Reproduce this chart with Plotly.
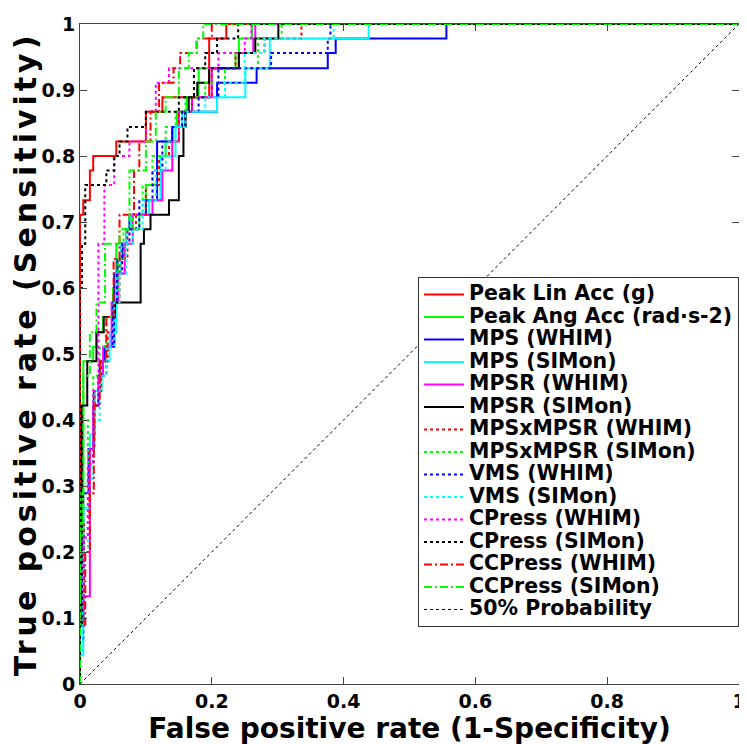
import plotly.graph_objects as go

# ---- data (ROC operating points: FPR, TPR) ----
names = ["Peak Lin Acc (g)", "Peak Ang Acc (rad·s-2)", "MPS (WHIM)", "MPS (SIMon)",
         "MPSR (WHIM)", "MPSR (SIMon)", "MPSxMPSR (WHIM)", "MPSxMPSR (SIMon)",
         "VMS (WHIM)", "VMS (SIMon)", "CPress (WHIM)", "CPress (SIMon)",
         "CCPress (WHIM)", "CCPress (SIMon)", "50% Probability"]

fpr_peak_lin = [0, 0, 0.005, 0.015, 0.02, 0.055, 0.1, 0.125, 0.196, 0.222, 1]
tpr_peak_lin = [0, 0.711, 0.733, 0.778, 0.8, 0.822, 0.867, 0.889, 0.978, 1, 1]

fpr_peak_ang = [0, 0, 0.005, 0.02, 0.025, 0.035, 0.05, 0.055, 0.07, 0.09, 0.1, 0.117, 0.13, 0.14, 0.147, 0.162, 0.18, 0.236, 0.241, 0.261, 1]
tpr_peak_ang = [0, 0.289, 0.489, 0.511, 0.533, 0.556, 0.6, 0.667, 0.689, 0.711, 0.756, 0.8, 0.822, 0.844, 0.867, 0.889, 0.933, 0.956, 0.978, 1, 1]

fpr_mps_whim = [0, 0, 0.005, 0.013, 0.021, 0.03, 0.038, 0.052, 0.057, 0.065, 0.07, 0.075, 0.1, 0.117, 0.14, 0.16, 0.208, 0.268, 0.376, 0.388, 0.556, 1]
tpr_mps_whim = [0, 0.089, 0.289, 0.356, 0.444, 0.489, 0.511, 0.622, 0.644, 0.667, 0.689, 0.711, 0.733, 0.822, 0.844, 0.867, 0.911, 0.933, 0.956, 0.978, 1, 1]

fpr_mps_simon = [0, 0, 0.005, 0.015, 0.023, 0.033, 0.045, 0.055, 0.062, 0.07, 0.078, 0.105, 0.122, 0.145, 0.155, 0.208, 0.251, 0.288, 0.438, 1]
tpr_mps_simon = [0, 0.044, 0.267, 0.378, 0.444, 0.489, 0.533, 0.622, 0.667, 0.689, 0.711, 0.733, 0.8, 0.844, 0.867, 0.889, 0.933, 0.978, 1, 1]

fpr_mpsr_whim = [0, 0, 0.005, 0.015, 0.02, 0.028, 0.035, 0.048, 0.058, 0.068, 0.08, 0.11, 0.125, 0.14, 0.15, 0.17, 0.2, 0.241, 0.263, 0.266, 1]
tpr_mpsr_whim = [0, 0.089, 0.133, 0.356, 0.422, 0.467, 0.511, 0.578, 0.622, 0.667, 0.711, 0.733, 0.778, 0.822, 0.867, 0.889, 0.933, 0.956, 0.978, 1, 1]

fpr_mpsr_simon = [0, 0, 0.003, 0.011, 0.025, 0.036, 0.053, 0.092, 0.097, 0.107, 0.135, 0.15, 0.157, 0.16, 0.165, 0.178, 0.196, 0.241, 0.266, 0.301, 1]
tpr_mpsr_simon = [0, 0.089, 0.422, 0.489, 0.533, 0.556, 0.578, 0.667, 0.689, 0.711, 0.733, 0.8, 0.844, 0.867, 0.889, 0.911, 0.933, 0.956, 0.978, 1, 1]

fpr_mpsx_whim = [0, 0, 0.006, 0.014, 0.022, 0.032, 0.042, 0.05, 0.06, 0.072, 0.085, 0.1, 0.12, 0.135, 0.15, 0.17, 0.2, 0.236, 0.28, 0.336, 1]
tpr_mpsx_whim = [0, 0.111, 0.244, 0.356, 0.444, 0.489, 0.533, 0.578, 0.644, 0.689, 0.711, 0.756, 0.8, 0.822, 0.867, 0.889, 0.933, 0.956, 0.978, 1, 1]

fpr_mpsx_simon = [0, 0, 0.004, 0.012, 0.02, 0.03, 0.04, 0.05, 0.058, 0.066, 0.08, 0.095, 0.11, 0.13, 0.145, 0.16, 0.19, 0.22, 0.27, 0.306, 1]
tpr_mpsx_simon = [0, 0.156, 0.289, 0.4, 0.467, 0.511, 0.556, 0.6, 0.644, 0.689, 0.711, 0.756, 0.8, 0.844, 0.867, 0.889, 0.911, 0.933, 0.978, 1, 1]

fpr_vms_whim = [0, 0, 0.005, 0.012, 0.02, 0.028, 0.04, 0.05, 0.056, 0.064, 0.075, 0.09, 0.11, 0.125, 0.14, 0.155, 0.18, 0.21, 0.29, 0.376, 0.38, 1]
tpr_vms_whim = [0, 0.067, 0.222, 0.333, 0.422, 0.467, 0.511, 0.578, 0.622, 0.667, 0.689, 0.733, 0.778, 0.822, 0.844, 0.867, 0.889, 0.933, 0.956, 0.978, 1, 1]

fpr_vms_simon = [0, 0, 0.004, 0.012, 0.02, 0.03, 0.04, 0.052, 0.06, 0.07, 0.08, 0.095, 0.115, 0.13, 0.145, 0.16, 0.19, 0.22, 0.25, 0.28, 0.385, 1]
tpr_vms_simon = [0, 0.044, 0.2, 0.311, 0.4, 0.467, 0.511, 0.578, 0.622, 0.667, 0.689, 0.733, 0.778, 0.822, 0.844, 0.867, 0.889, 0.911, 0.956, 0.978, 1, 1]

fpr_cpress_whim = [0, 0, 0.005, 0.012, 0.02, 0.028, 0.037, 0.052, 0.075, 0.1, 0.115, 0.135, 0.21, 0.25, 0.26, 1]
tpr_cpress_whim = [0, 0.111, 0.222, 0.333, 0.444, 0.667, 0.756, 0.8, 0.822, 0.867, 0.911, 0.933, 0.956, 0.978, 1, 1]

fpr_cpress_simon = [0, 0, 0.003, 0.008, 0.04, 0.052, 0.06, 0.072, 0.1, 0.15, 0.173, 0.19, 0.208, 0.24, 1]
tpr_cpress_simon = [0, 0.6, 0.667, 0.756, 0.778, 0.8, 0.822, 0.844, 0.867, 0.889, 0.933, 0.956, 0.978, 1, 1]

fpr_ccpress_whim = [0, 0, 0.008, 0.015, 0.021, 0.03, 0.04, 0.051, 0.06, 0.082, 0.09, 0.107, 0.12, 0.142, 0.152, 0.177, 0.2, 1]
tpr_ccpress_whim = [0, 0.089, 0.2, 0.289, 0.422, 0.489, 0.556, 0.644, 0.711, 0.778, 0.822, 0.867, 0.911, 0.933, 0.956, 0.978, 1, 1]

fpr_ccpress_simon = [0, 0, 0.005, 0.015, 0.025, 0.038, 0.06, 0.075, 0.1, 0.115, 0.13, 0.15, 0.165, 0.177, 0.187, 1]
tpr_ccpress_simon = [0, 0.244, 0.467, 0.533, 0.578, 0.667, 0.689, 0.778, 0.822, 0.867, 0.889, 0.933, 0.956, 0.978, 1, 1]

fpr_chance = [0, 1]
tpr_chance = [0, 1]

x_ticks = [0, 0.2, 0.4, 0.6, 0.8, 1]
x_tick_text = ["0", "0.2", "0.4", "0.6", "0.8", "1"]
y_ticks = [0, 0.1, 0.2, 0.3, 0.4, 0.5, 0.6, 0.7, 0.8, 0.9, 1]
y_tick_text = ["0", "0.1", "0.2", "0.3", "0.4", "0.5", "0.6", "0.7", "0.8", "0.9", "1"]

DASHDOT = "8px,3px,2px,3px"
series = [
    (fpr_peak_lin, tpr_peak_lin, "#FF0000", "solid"),
    (fpr_peak_ang, tpr_peak_ang, "#00FF00", "solid"),
    (fpr_mps_whim, tpr_mps_whim, "#0000FF", "solid"),
    (fpr_mps_simon, tpr_mps_simon, "#00FFFF", "solid"),
    (fpr_mpsr_whim, tpr_mpsr_whim, "#FF00FF", "solid"),
    (fpr_mpsr_simon, tpr_mpsr_simon, "#000000", "solid"),
    (fpr_mpsx_whim, tpr_mpsx_whim, "#FF0000", "dot"),
    (fpr_mpsx_simon, tpr_mpsx_simon, "#00FF00", "dot"),
    (fpr_vms_whim, tpr_vms_whim, "#0000FF", "dot"),
    (fpr_vms_simon, tpr_vms_simon, "#00FFFF", "dot"),
    (fpr_cpress_whim, tpr_cpress_whim, "#FF00FF", "dot"),
    (fpr_cpress_simon, tpr_cpress_simon, "#000000", "dot"),
    (fpr_ccpress_whim, tpr_ccpress_whim, "#FF0000", DASHDOT),
    (fpr_ccpress_simon, tpr_ccpress_simon, "#00FF00", DASHDOT),
]

LEG_SPAN = '<span style="font-size:20.5px">{}</span>'

fig = go.Figure()
for name, (fx, ty, col, dash) in zip(names, series):
    fig.add_trace(go.Scatter(x=fx, y=ty, mode="lines", name=LEG_SPAN.format(name),
                             line=dict(color=col, dash=dash, width=2, shape="hv")))
fig.add_trace(go.Scatter(x=fpr_chance, y=tpr_chance, mode="lines",
                         name=LEG_SPAN.format(names[-1]),
                         line=dict(color="#000000", dash="dot", width=1)))

tick_font = dict(family="DejaVu Sans", size=19, color="black", weight="bold")
title_font = dict(family="DejaVu Sans", size=28, color="black", weight="bold")

fig.update_layout(
    width=747, height=744,
    margin=dict(l=72, r=16, t=5, b=68),
    paper_bgcolor="white", plot_bgcolor="white",
    showlegend=True,
    legend=dict(x=1.0, y=0.086, xanchor="right", yanchor="bottom",
                bgcolor="white", bordercolor="#333333", borderwidth=1,
                itemwidth=40,
                font=dict(family="DejaVu Sans", size=15, color="black", weight="bold")),
    xaxis=dict(range=[0, 1], tickvals=x_ticks, ticktext=x_tick_text,
               ticks="inside", ticklen=7, tickcolor="#444444", mirror="ticks",
               showline=True, linecolor="#444444", linewidth=1,
               showgrid=False, zeroline=False, tickfont=tick_font,
               ticklabeloverflow="allow",
               title=dict(text="False positive rate (1-Specificity)", font=title_font, standoff=0)),
    yaxis=dict(range=[0, 1], tickvals=y_ticks, ticktext=y_tick_text,
               ticks="inside", ticklen=7, tickcolor="#444444", mirror="ticks",
               showline=True, linecolor="#444444", linewidth=1,
               showgrid=False, zeroline=False, tickfont=tick_font,
               ticklabeloverflow="allow",
               title=dict(text='<span style="font-size:30px;letter-spacing:4px">True positive rate (Sensitivity)</span>',
                          font=title_font, standoff=2)),
)

fig.write_html("out.html")
